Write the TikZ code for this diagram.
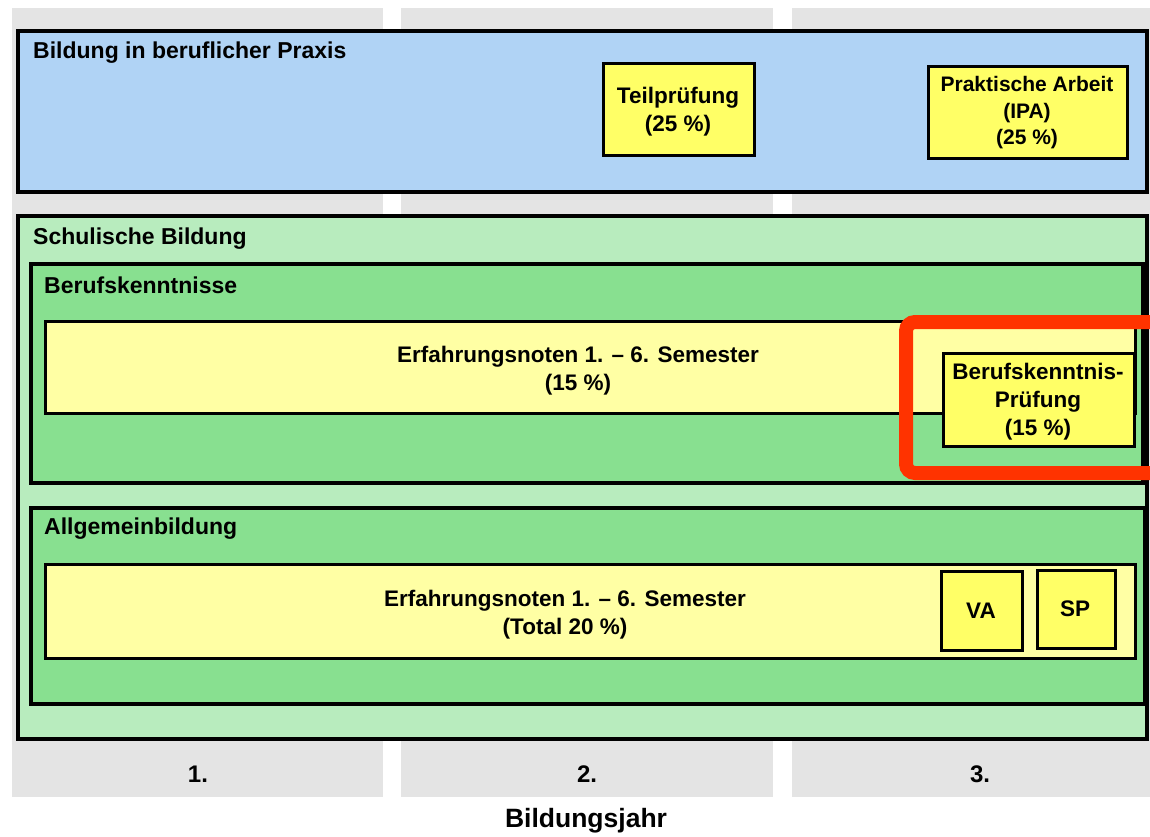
\documentclass[tikz,border=0pt]{standalone}
\usepackage{fontspec}
\setmainfont{Liberation Sans}
\begin{document}
\begin{tikzpicture}[x=1pt,y=-1pt,
  col/.style={fill=colgray,draw=none},
  outer/.style={draw=black,line width=3.5pt},
  ybox/.style={draw=black,line width=3pt,fill=yel},
  bar/.style={draw=black,line width=3pt,fill=lyel},
  lbl/.style={font=\fontsize{23}{26}\selectfont\bfseries,anchor=west,inner sep=0pt},
  txt/.style={font=\fontsize{22.5}{28}\selectfont\bfseries,align=center,inner sep=0pt},
  stxt/.style={font=\fontsize{21}{26.5}\selectfont\bfseries,align=center,inner sep=0pt}]
\definecolor{colgray}{HTML}{E4E4E4}
\definecolor{blu}{HTML}{B0D3F5}
\definecolor{lgreen}{HTML}{B8ECBE}
\definecolor{mgreen}{HTML}{88E090}
\definecolor{yel}{HTML}{FFFF66}
\definecolor{lyel}{HTML}{FFFFA4}
\definecolor{redc}{HTML}{FF3300}
\useasboundingbox[fill=white] (0,0) rectangle (1150,836);
% columns
\fill[col] (12,8) rectangle (383,797);
\fill[col] (401,8) rectangle (773,797);
\fill[col] (792,8) rectangle (1150,797);
% practice
\draw[outer,fill=blu] (18,31) rectangle (1147,192);
\node[lbl] (praxis) at (33,53) {Bildung in beruflicher Praxis};
\draw[ybox] (603,63) rectangle (754,155);
\node[txt] (teil) at (678,112) {Teilprüfung\\(25 \%)};
\draw[ybox] (928,66) rectangle (1127,158);
\node[stxt] (ipa) at (1027,113) {Praktische Arbeit\\(IPA)\\(25 \%)};
% school
\draw[outer,fill=lgreen] (18,216) rectangle (1147,739);
\node[lbl] (schul) at (33,239) {Schulische Bildung};
\draw[outer,fill=mgreen] (31,264) rectangle (1143,483);
\node[lbl] (beruf) at (44,285) {Berufskenntnisse};
\draw[bar] (45,321) rectangle (1135,413);
\node[txt] (en1) at (578,371) {Erfahrungsnoten 1. – 6. Semester\\(15 \%)};
\draw[ybox] (943,353) rectangle (1134,446);
\node[txt] (bkp) at (1038,402) {Berufskenntnis-\\Prüfung\\(15 \%)};
\draw[redc,line width=14pt,rounded corners=9pt] (1165,322) -- (906,322) -- (906,473) -- (1165,473);
\draw[outer,fill=mgreen] (31,508) rectangle (1145,704);
\node[lbl] (allg) at (44,529) {Allgemeinbildung};
\draw[bar] (45,564) rectangle (1135,658);
\node[txt] (en2) at (565,615) {Erfahrungsnoten 1. – 6. Semester\\(Total 20 \%)};
\draw[ybox] (941,571) rectangle (1022,650);
\node[txt] (va) at (981,611) {VA};
\draw[ybox] (1037,570) rectangle (1115,648);
\node[txt] (sp) at (1075,609) {SP};
% years
\node[txt,font=\fontsize{24}{28}\selectfont\bfseries] (y1) at (198,774) {1.};
\node[txt,font=\fontsize{24}{28}\selectfont\bfseries] (y2) at (587,774) {2.};
\node[txt,font=\fontsize{24}{28}\selectfont\bfseries] (y3) at (980,774) {3.};
\node[font=\fontsize{26.5}{30}\selectfont\bfseries,inner sep=0pt] (bj) at (586,821) {Bildungsjahr};
\end{tikzpicture}
\end{document}
